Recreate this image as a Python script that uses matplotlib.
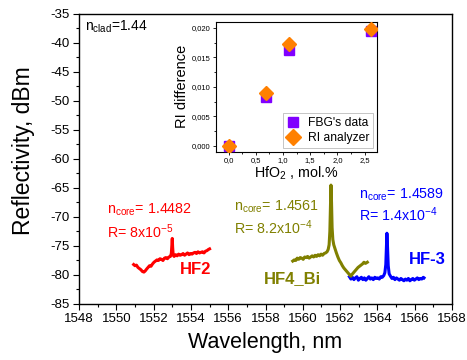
import matplotlib
matplotlib.use("Agg")
import matplotlib.pyplot as plt
from matplotlib.ticker import MultipleLocator, FuncFormatter

plt.rcParams['font.family'] = ['Liberation Sans', 'DejaVu Sans']
plt.rcParams['mathtext.fontset'] = 'custom'
plt.rcParams['mathtext.rm'] = 'Liberation Sans'
plt.rcParams['mathtext.it'] = 'Liberation Sans'
plt.rcParams['axes.unicode_minus'] = False

# ---- data ----
hf2_wl = [1550.93, 1551.0, 1551.08, 1551.16, 1551.24, 1551.32, 1551.40, 1551.48, 1551.55, 1551.62,
          1551.70, 1551.78, 1551.86, 1551.94, 1552.02, 1552.10, 1552.18, 1552.26, 1552.34, 1552.42,
          1552.50, 1552.58, 1552.66, 1552.74, 1552.82, 1552.90, 1552.95, 1552.98, 1553.00, 1553.02,
          1553.05, 1553.10, 1553.18, 1553.26, 1553.34, 1553.42, 1553.50, 1553.58, 1553.66, 1553.74,
          1553.82, 1553.90, 1553.98, 1554.06, 1554.14, 1554.22, 1554.30, 1554.38, 1554.46, 1554.54,
          1554.62, 1554.70, 1554.78, 1554.86, 1554.94, 1555.0]
hf2_r = [-78.2, -78.4, -78.3, -78.7, -78.9, -79.1, -79.4, -79.5, -79.3, -79.0,
         -78.7, -78.4, -78.5, -78.1, -77.8, -77.6, -77.4, -77.5, -77.2, -77.3,
         -77.5, -77.1, -77.0, -77.2, -76.9, -76.8, -76.3, -74.8, -73.7, -75.2,
         -76.6, -76.8, -76.5, -76.7, -76.4, -76.6, -76.5, -76.3, -76.6, -76.4,
         -76.2, -76.5, -76.3, -76.4, -76.2, -76.1, -76.3, -76.0, -76.2, -76.1,
         -76.0, -76.2, -75.9, -75.8, -75.6, -75.5]

hf4_wl = [1559.46, 1559.54, 1559.62, 1559.70, 1559.78, 1559.86, 1559.94, 1560.02, 1560.10, 1560.18,
          1560.26, 1560.34, 1560.42, 1560.50, 1560.58, 1560.66, 1560.74, 1560.82, 1560.90, 1560.98,
          1561.06, 1561.14, 1561.22, 1561.30, 1561.36, 1561.41, 1561.45, 1561.48, 1561.51, 1561.54,
          1561.57, 1561.61, 1561.66, 1561.72, 1561.80, 1561.88, 1561.96, 1562.04, 1562.12, 1562.20,
          1562.28, 1562.36, 1562.44, 1562.52, 1562.58, 1562.64, 1562.72, 1562.80, 1562.88, 1562.96,
          1563.04, 1563.12, 1563.20, 1563.28, 1563.36, 1563.46]
hf4_r = [-77.6, -77.4, -77.5, -77.1, -77.3, -77.0, -77.1, -77.3, -76.9, -77.0,
         -76.8, -77.1, -76.9, -76.7, -76.9, -76.6, -76.8, -76.5, -76.7, -76.4,
         -76.6, -76.3, -76.2, -76.0, -75.6, -74.8, -72.5, -68.5, -64.5, -67.5,
         -71.8, -73.9, -74.8, -75.4, -76.2, -76.9, -77.5, -77.9, -78.4, -78.8,
         -79.1, -79.4, -79.7, -80.0, -80.2, -79.9, -79.6, -79.3, -79.0, -78.7,
         -78.5, -78.3, -78.1, -77.8, -78.0, -77.8]

hf3_wl = [1562.50, 1562.58, 1562.66, 1562.74, 1562.82, 1562.90, 1562.98, 1563.06, 1563.14, 1563.22,
          1563.30, 1563.38, 1563.46, 1563.54, 1563.62, 1563.70, 1563.78, 1563.86, 1563.94, 1564.02,
          1564.10, 1564.18, 1564.26, 1564.34, 1564.40, 1564.45, 1564.48, 1564.51, 1564.54, 1564.58,
          1564.63, 1564.70, 1564.78, 1564.86, 1564.94, 1565.02, 1565.10, 1565.18, 1565.26, 1565.34,
          1565.42, 1565.50, 1565.58, 1565.66, 1565.74, 1565.82, 1565.90, 1565.98, 1566.06, 1566.14,
          1566.22, 1566.30, 1566.38, 1566.46, 1566.50]
hf3_r = [-80.3, -80.7, -80.4, -80.8, -80.5, -80.3, -80.9, -80.6, -80.4, -80.8,
         -80.5, -80.9, -80.6, -80.3, -80.7, -80.5, -80.8, -80.4, -80.6, -80.5,
         -80.7, -80.3, -80.4, -80.1, -79.6, -78.2, -75.5, -72.8, -75.0, -78.4,
         -79.8, -80.2, -80.6, -80.4, -80.8, -80.5, -80.7, -80.9, -80.6, -80.8,
         -81.0, -80.7, -80.9, -80.6, -81.0, -80.8, -80.6, -80.9, -80.7, -80.5,
         -80.8, -80.6, -80.7, -80.4, -80.5]

hfo2 = [0.0, 0.68, 1.11, 2.62]
fbg_ri = [0.0, 0.0082, 0.0163, 0.0194]
analyzer_ri = [0.0, 0.0089, 0.0172, 0.0198]

main_xticks = [1548, 1550, 1552, 1554, 1556, 1558, 1560, 1562, 1564, 1566, 1568]
main_yticks = [-35, -40, -45, -50, -55, -60, -65, -70, -75, -80, -85]

RED = '#ff0000'
OLIVE = '#808000'
BLUE = '#0000ff'

fig = plt.figure(figsize=(4.67, 3.60), dpi=100)
ax = fig.add_axes([0.1692, 0.1556, 0.7987, 0.8056])

ax.plot(hf2_wl, hf2_r, color=RED, lw=2.2, zorder=3)
ax.plot(hf3_wl, hf3_r, color=BLUE, lw=2.2, zorder=3)
ax.plot(hf4_wl, hf4_r, color=OLIVE, lw=2.2, zorder=4)

ax.set_xlim(1548, 1568)
ax.set_ylim(-85, -35)
ax.set_xticks(main_xticks)
ax.set_yticks(main_yticks)
ax.xaxis.set_minor_locator(MultipleLocator(1))
ax.yaxis.set_minor_locator(MultipleLocator(2.5))
ax.tick_params(which='major', direction='out', length=4, width=0.8, labelsize=9.5, pad=2.5,
               top=False, right=False)
ax.tick_params(which='minor', direction='out', length=2.5, width=0.8, top=False, right=False)
for s in ax.spines.values():
    s.set_linewidth(1.0)
ax.set_xlabel('Wavelength, nm', fontsize=15.5, labelpad=5)
ax.set_ylabel('Reflectivity, dBm', fontsize=16.5)
ax.yaxis.set_label_coords(-0.118, 0.53)

ax.text(1548.3, -37.2, r'n$_{\mathrm{clad}}$=1.44', fontsize=10, va='center', ha='left')

ax.text(1549.5, -68.8, r'n$_{\mathrm{core}}$= 1.4482', color=RED, fontsize=10.3, va='center', ha='left')
ax.text(1549.5, -72.6, r'R= 8x10$^{-5}$', color=RED, fontsize=10.3, va='center', ha='left')
ax.text(1553.4, -79.1, 'HF2', color=RED, fontsize=12, fontweight='bold', va='center', ha='left')

ax.text(1556.3, -68.2, r'n$_{\mathrm{core}}$= 1.4561', color=OLIVE, fontsize=10.3, va='center', ha='left')
ax.text(1556.3, -71.8, r'R= 8.2x10$^{-4}$', color=OLIVE, fontsize=10.3, va='center', ha='left')
ax.text(1557.9, -80.7, 'HF4_Bi', color=OLIVE, fontsize=12, fontweight='bold', va='center', ha='left')

ax.text(1563.0, -66.2, r'n$_{\mathrm{core}}$= 1.4589', color=BLUE, fontsize=10.3, va='center', ha='left')
ax.text(1563.0, -69.6, r'R= 1.4x10$^{-4}$', color=BLUE, fontsize=10.3, va='center', ha='left')
ax.text(1565.7, -77.4, 'HF-3', color=BLUE, fontsize=12, fontweight='bold', va='center', ha='left')

# ---- inset ----
ins = fig.add_axes([0.4625, 0.5786, 0.3441, 0.3603])
ins.plot(hfo2, fbg_ri, linestyle='none', marker='s', ms=6.5, color='#8000ff', label="FBG's data", zorder=3)
ins.plot(hfo2, analyzer_ri, linestyle='none', marker='D', ms=7.5, color='#ff8000', label='RI analyzer', zorder=4)
ins.set_xlim(-0.23, 2.72)
ins.set_ylim(-0.001, 0.021)
ins.set_xticks([0.0, 0.5, 1.0, 1.5, 2.0, 2.5])
ins.set_yticks([0.0, 0.005, 0.010, 0.015, 0.020])
ins.xaxis.set_minor_locator(MultipleLocator(0.25))
ins.yaxis.set_minor_locator(MultipleLocator(0.0025))
ins.xaxis.set_major_formatter(FuncFormatter(lambda v, p: f'{v:.1f}'.replace('.', ',')))
ins.yaxis.set_major_formatter(FuncFormatter(lambda v, p: f'{v:.3f}'.replace('.', ',')))
ins.tick_params(which='major', direction='out', length=2.5, width=0.6, labelsize=5.5, pad=1.5,
                top=False, right=False)
ins.tick_params(which='minor', direction='out', length=1.5, width=0.6, top=False, right=False)
for s in ins.spines.values():
    s.set_linewidth(0.8)
ins.set_xlabel(r'HfO$_2$ , mol.%', fontsize=10.3, labelpad=0)
ins.set_ylabel('RI difference', fontsize=10.5, labelpad=2)
leg = ins.legend(loc='lower right', fontsize=8.7, frameon=True, fancybox=False, edgecolor='#aaaaaa',
                 handletextpad=0.6, borderpad=0.3, labelspacing=0.3, handlelength=1.2,
                 borderaxespad=0.3, markerscale=1.15)
leg.get_frame().set_linewidth(0.6)

fig.savefig('out.png', dpi=100)
